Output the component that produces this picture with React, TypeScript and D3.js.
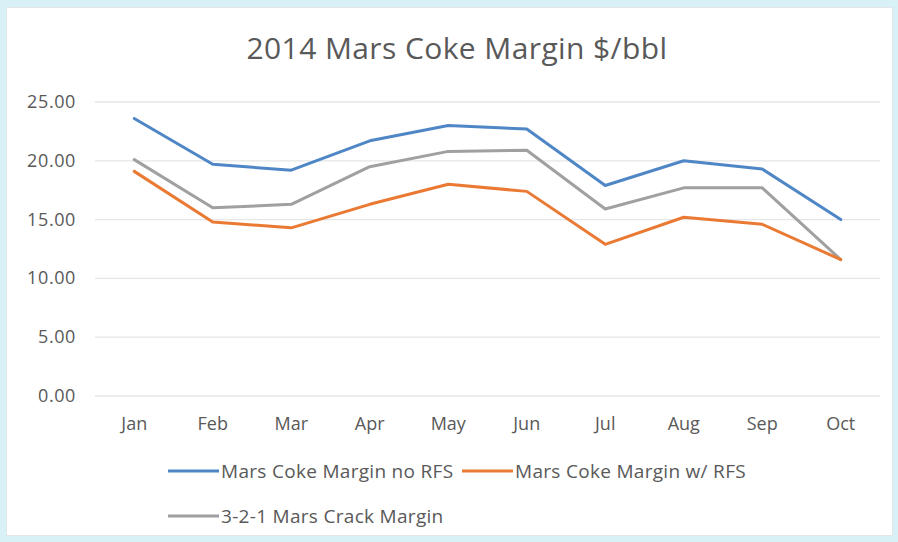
import { useEffect, useRef } from 'react';
import * as d3 from 'd3';

const WIDTH = 898;
const HEIGHT = 542;
const MARGIN = { top: 102, right: 18, bottom: 146, left: 95 };

const months = ['Jan', 'Feb', 'Mar', 'Apr', 'May', 'Jun', 'Jul', 'Aug', 'Sep', 'Oct'];
const noRfs = [23.6, 19.7, 19.2, 21.7, 23.0, 22.7, 17.9, 20.0, 19.3, 15.0];
const withRfs = [19.1, 14.8, 14.3, 16.3, 18.0, 17.4, 12.9, 15.2, 14.6, 11.6];
const crack = [20.1, 16.0, 16.3, 19.5, 20.8, 20.9, 15.9, 17.7, 17.7, 11.6];
const yTicks = [0, 5, 10, 15, 20, 25];

const seriesNames = ['Mars Coke Margin no RFS', 'Mars Coke Margin w/ RFS', '3-2-1 Mars Crack Margin'];
const seriesColors = ['#4f86c6', '#ea7a33', '#a0a0a0'];

const FONT = '"Open Sans", sans-serif';

export default function App() {
  const svgRef = useRef<SVGSVGElement>(null);

  useEffect(() => {
    const svg = d3.select(svgRef.current);
    svg.selectAll('*').remove();

    // page background + chart panel
    svg.append('rect').attr('width', WIDTH).attr('height', HEIGHT).attr('fill', '#d8f1f7');
    svg
      .append('rect')
      .attr('x', 6.5)
      .attr('y', 7.5)
      .attr('width', 886)
      .attr('height', 528)
      .attr('fill', '#ffffff')
      .attr('stroke', '#e2e6e8');

    const plotRight = 880;
    const plotBottom = 396;

    const x = d3.scalePoint<string>().domain(months).range([MARGIN.left, plotRight]).padding(0.5);
    const y = d3.scaleLinear().domain([0, 25]).range([plotBottom, MARGIN.top]);

    svg
      .append('text')
      .attr('x', 457)
      .attr('y', 59)
      .attr('text-anchor', 'middle')
      .attr('fill', '#595959')
      .attr('font-family', FONT)
      .attr('font-size', 30)
      .attr('letter-spacing', 0.4)
      .text('2014 Mars Coke  Margin $/bbl');

    // gridlines
    svg
      .selectAll('.grid')
      .data(yTicks)
      .enter()
      .append('line')
      .attr('x1', MARGIN.left)
      .attr('x2', plotRight)
      .attr('y1', (d) => y(d))
      .attr('y2', (d) => y(d))
      .attr('stroke', '#e6e6e6')
      .attr('stroke-width', 1.3);

    svg
      .selectAll('.ylab')
      .data(yTicks)
      .enter()
      .append('text')
      .attr('x', 76)
      .attr('y', (d) => y(d) + 6)
      .attr('text-anchor', 'end')
      .attr('fill', '#595959')
      .attr('font-family', FONT)
      .attr('font-size', 18)
      .attr('letter-spacing', 0.6)
      .text((d) => d.toFixed(2));

    svg
      .selectAll('.xlab')
      .data(months)
      .enter()
      .append('text')
      .attr('x', (d) => x(d)!)
      .attr('y', 430)
      .attr('text-anchor', 'middle')
      .attr('fill', '#595959')
      .attr('font-family', FONT)
      .attr('font-size', 18)
      .text((d) => d);

    const line = d3
      .line<number>()
      .x((_, i) => x(months[i])!)
      .y((d) => y(d));

    [noRfs, crack, withRfs].forEach((vals) => {
      const idx = vals === noRfs ? 0 : vals === withRfs ? 1 : 2;
      svg
        .append('path')
        .attr('d', line(vals))
        .attr('fill', 'none')
        .attr('stroke', seriesColors[idx])
        .attr('stroke-width', 3)
        .attr('stroke-linejoin', 'round')
        .attr('stroke-linecap', 'round');
    });

    // legend
    const legendPos = [
      { x: 168, y: 471 },
      { x: 462, y: 471 },
      { x: 168, y: 516 },
    ];
    seriesNames.forEach((name, i) => {
      const p = legendPos[i];
      svg
        .append('line')
        .attr('x1', p.x)
        .attr('x2', p.x + 51)
        .attr('y1', p.y)
        .attr('y2', p.y)
        .attr('stroke', seriesColors[i])
        .attr('stroke-width', 3);
      svg
        .append('text')
        .attr('x', p.x + 53)
        .attr('y', p.y + 7)
        .attr('fill', '#595959')
        .attr('font-family', FONT)
        .attr('font-size', 19)
        .attr('letter-spacing', 0.3)
        .text(name);
    });
  }, []);

  return (
    <div style={{ position: 'fixed', left: 0, top: 0 }}>
      <svg ref={svgRef} width={WIDTH} height={HEIGHT} style={{ display: 'block' }} />
    </div>
  );
}
